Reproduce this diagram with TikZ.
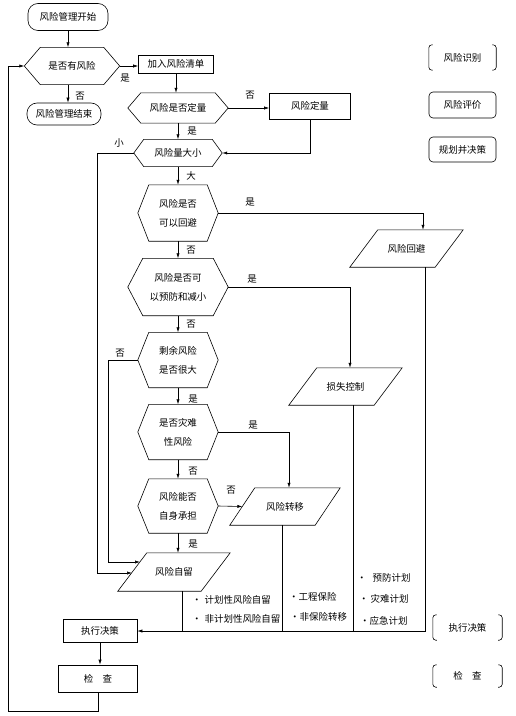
\documentclass[tikz,border=0pt]{standalone}
\usepackage{fontspec}
\newfontfamily\cjk{Noto Sans CJK SC}
\usetikzlibrary{arrows.meta,calc}
\tikzset{
  ln/.style={line width=0.6pt},
  arr/.style={ln,-{Latex[length=5bp,width=3.2bp]}},
  txt/.style={font=\cjk\fontsize{9.5}{19}\selectfont,align=center,inner sep=0pt},
  lbl/.style={font=\cjk\fontsize{9.5}{11}\selectfont,inner sep=0pt},
  rbox/.style={txt,draw,ln,rounded corners=#1},
  sbox/.style={txt,draw,ln},
}
\newcommand\hexa[6]{%
  \node[txt,minimum width=#3bp,minimum height=#4bp] (#1) at #2 {#6};
  \draw[ln] (#1.west) -- ([xshift=#5bp]#1.north west) -- ([xshift=-#5bp]#1.north east)
    -- (#1.east) -- ([xshift=-#5bp]#1.south east) -- ([xshift=#5bp]#1.south west) -- cycle;}
\newcommand\para[6]{%
  \node[txt,minimum width=#3bp,minimum height=#4bp] (#1) at #2 {#6};
  \draw[ln] (#1.south west) -- ([xshift=#5bp]#1.north west) -- (#1.north east)
    -- ([xshift=-#5bp]#1.south east) -- cycle;}
\newcommand\brak[5]{%
  \node[txt,minimum width=#3bp,minimum height=#4bp] (#1) at #2 {#5};
  \draw[ln,rounded corners=3bp] ([xshift=4bp]#1.north west) -- (#1.north west) -- (#1.south west) -- ([xshift=4bp]#1.south west);
  \draw[ln,rounded corners=3bp] ([xshift=-4bp]#1.north east) -- (#1.north east) -- (#1.south east) -- ([xshift=-4bp]#1.south east);}
\begin{document}
\begin{tikzpicture}[x=1bp,y=-1bp]
\useasboundingbox (0,0) rectangle (516,716);
% main column
\node[rbox=10bp,minimum width=80bp,minimum height=27bp] (start) at (68,17) {风险管理开始};
\hexa{q1}{(72,66)}{95}{37}{16}{是否有风险}
\node[rbox=10bp,minimum width=74bp,minimum height=22bp] (end) at (64,114) {风险管理结束};
\node[sbox,minimum width=75bp,minimum height=18bp] (list) at (176,64) {加入风险清单};
\hexa{q2}{(178,108)}{100}{30}{13}{风险是否定量}
\node[sbox,minimum width=81bp,minimum height=26bp] (quant) at (310,106) {风险定量};
\hexa{q3}{(178,153)}{88}{27}{10}{风险量大小}
\hexa{q4}{(178,213)}{80}{56}{11}{风险是否\\可以回避}
\hexa{q5}{(178,287)}{100}{57}{15}{风险是否可\\以预防和减小}
\hexa{q6}{(178,360)}{80}{55}{11}{剩余风险\\是否很大}
\hexa{q7}{(178,432)}{80}{55}{11}{是否灾难\\性风险}
\hexa{q8}{(178,506)}{80}{54}{11}{风险能否\\自身承担}
\para{avoid}{(406.5,248.5)}{113}{37}{28}{风险回避}
\para{loss}{(345.5,386.5)}{113}{37}{28}{损失控制}
\para{trans}{(285,506.5)}{110}{37}{25}{风险转移}
\para{keep}{(174,572)}{112}{38}{29}{风险自留}
\node[sbox,minimum width=74bp,minimum height=23bp] (exec) at (100,631) {执行决策};
\node[sbox,minimum width=79bp,minimum height=27bp] (check) at (98,678.5) {检\hspace{1em}查};
% free ends on the slanted edge of 风险自留
\coordinate (kin1) at (140,562);
\coordinate (kin2) at (132,573);
% connectors
\draw[arr] (start.south) -- (start.south |- q1.north);
\draw[arr] (q1.south -| start.south) -- (start.south |- end.north);
\draw[arr] (q1.east) -- (q1.east -| list.west);
\draw[arr] (list.south) -- (list.south |- q2.north);
\draw[arr] (q2.east) -- (q2.east -| quant.west);
\draw[arr] (quant.south) |- (q3.east);
\draw[arr] (q2.south) -- (q3.north);
\draw[arr] (q3.west) -| (97,573) -- (kin2);
\draw[arr] (q3.south) -- (q4.north);
\draw[arr] (q4.east) -| ([xshift=16.5bp]avoid.north);
\draw[arr] (q4.south) -- (q5.north);
\draw[arr] (q5.east) -| ([xshift=4.5bp]loss.north);
\draw[arr] (q5.south) -- (q6.north);
\draw[arr] (q6.west) -| (108,562) -- (kin1);
\draw[arr] (q6.south) -- (q7.north);
\draw[arr] (q7.east) -| ([xshift=4bp]trans.north);
\draw[arr] (q7.south) -- (q8.north);
\draw[arr] (q8.east) -- ([xshift=12.5bp]trans.west);
\draw[arr] (q8.south) -- (q8.south |- keep.north);
\draw[arr] ([xshift=18.5bp]avoid.south) |- (exec.east);
\draw[ln] ([xshift=7.5bp]loss.south) -- ([xshift=7.5bp]loss.south |- exec.east);
\draw[ln] ([xshift=-3bp]trans.south) -- ([xshift=-3bp]trans.south |- exec.east);
\draw[ln] ([xshift=8bp]keep.south) -- ([xshift=8bp]keep.south |- exec.east);
\draw[arr] (exec.south) -- (exec.south |- check.north);
\draw[arr] (check.south) |- (8,711) |- (q1.west);
% branch labels
\node[lbl] (l1) at (125,78) {是};
\node[lbl] (l2) at (80,96) {否};
\node[lbl] (l3) at (250,95) {否};
\node[lbl] (l4) at (192,131) {是};
\node[lbl] (l5) at (119,143) {小};
\node[lbl] (l6) at (191,176) {大};
\node[lbl] (l7) at (250,202) {是};
\node[lbl] (l8) at (191,250) {否};
\node[lbl] (l9) at (252,279) {是};
\node[lbl] (l10) at (191,324) {否};
\node[lbl] (l11) at (120,353) {否};
\node[lbl] (l12) at (193,399) {是};
\node[lbl] (l13) at (253,425) {是};
\node[lbl] (l14) at (193,471) {否};
\node[lbl] (l15) at (231,490) {否};
\node[lbl] (l16) at (193,544) {是};
% bullet notes
\node[lbl,anchor=west] (b1) at (192,600) {•\hspace{3bp}计划性风险自留};
\node[lbl,anchor=west] (b2) at (192,619) {•\hspace{3bp}非计划性风险自留};
\node[lbl,anchor=west] (b3) at (289,597) {•工程保险};
\node[lbl,anchor=west] (b4) at (290,617) {•非保险转移};
\node[lbl,anchor=west] (b5) at (357,578) {•\hspace{6bp}预防计划};
\node[lbl,anchor=west] (b6) at (359,599) {•\hspace{2bp}灾难计划};
\node[lbl,anchor=west] (b7) at (360,621) {•应急计划};
% legend
\brak{g1}{(462.5,57.5)}{67}{25}{风险识别}
\node[rbox=4bp,minimum width=67bp,minimum height=26bp] (g2) at (462.5,105) {风险评价};
\node[rbox=4bp,minimum width=67bp,minimum height=25bp] (g3) at (462.5,149.5) {规划并决策};
\brak{g4}{(467.5,627.5)}{69}{25}{执行决策}
\brak{g5}{(467.5,676)}{69}{22}{检\hspace{1em}查}
\end{tikzpicture}
\end{document}
